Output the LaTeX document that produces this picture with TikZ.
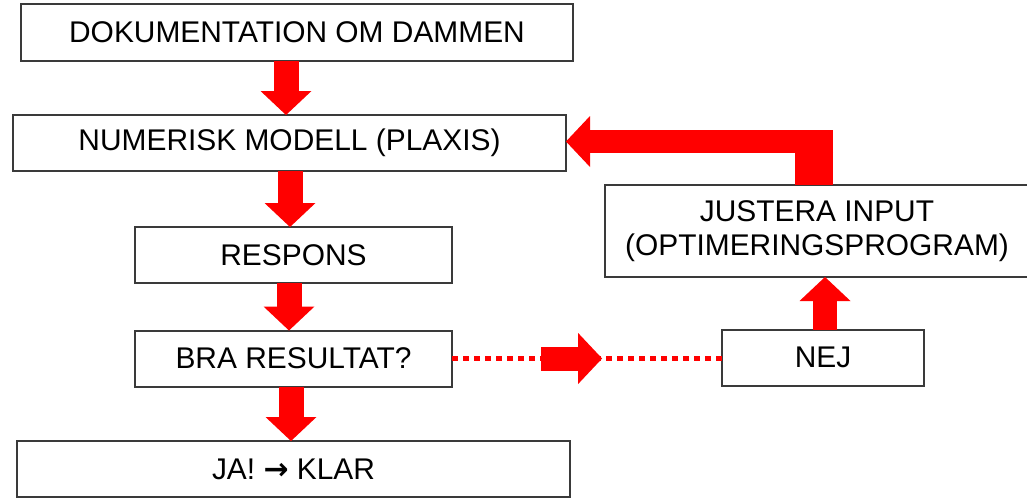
\documentclass[tikz,border=0pt]{standalone}
\usepackage{fontspec}
\setmainfont{Liberation Sans}
\newfontfamily\arrowfont{DejaVu Sans}
\usetikzlibrary{arrows.meta}
\definecolor{boxline}{HTML}{3A3A3A}
\definecolor{arrowred}{HTML}{FF0000}
\begin{document}
\begin{tikzpicture}[x=1pt,y=-1pt,
  box/.style={draw=boxline, line width=2pt, rectangle, inner sep=0pt, outer sep=0pt,
    align=center, font=\fontsize{29.9}{34}\selectfont},
  bigarrow/.style={draw=arrowred, line width=25pt,
    -{Triangle[width=51pt,length=24pt,line width=0pt,fill=arrowred]}},
  dotline/.style={draw=arrowred, line width=5.5pt, dash pattern=on 6pt off 5pt},
  thickbar/.style={draw=arrowred, line width=38pt}
]
\useasboundingbox (0,0) rectangle (1027,498);

\node[box, minimum width=552pt, minimum height=57pt] (b1) at (297,32.5) {DOKUMENTATION OM DAMMEN};
\node[box, minimum width=553pt, minimum height=56pt] (b2) at (289.5,143) {NUMERISK MODELL (PLAXIS)};
\node[box, minimum width=317pt, minimum height=56pt] (b3) at (293.5,255) {RESPONS};
\node[box, minimum width=317pt, minimum height=56pt] (b4) at (293.5,358.5) {BRA RESULTAT?};
\node[box, minimum width=553pt, minimum height=56pt] (b5) at (293.5,469) {JA! {\arrowfont\bfseries →} KLAR};
\node[box, minimum width=424pt, minimum height=92pt] (jus) at (817,231) {JUSTERA INPUT\\(OPTIMERINGSPROGRAM)};
\node[box, minimum width=202pt, minimum height=56pt] (nej) at (823,357.5) {NEJ};

% vertical flow arrows
\draw[bigarrow] ([xshift=-11pt]b1.south) -- ([xshift=-3.5pt]b2.north);
\draw[bigarrow] ([xshift=0.5pt]b2.south) -- ([xshift=-3.5pt]b3.north);
\draw[bigarrow] ([xshift=-4.5pt]b3.south) -- ([xshift=-4.5pt]b4.north);
\draw[bigarrow] ([xshift=-2.5pt]b4.south) -- ([xshift=-2.5pt]b5.north);

% NEJ branch
\draw[dotline] (b4.east) -- (b4.east -| nej.west);
\path (b4.east) -- (b4.east -| nej.west) coordinate[pos=0.33] (ms) coordinate[pos=0.556] (me);
\draw[bigarrow, line width=24pt] (ms) -- (me);
\draw[bigarrow, line width=24pt] ([xshift=2pt]nej.north) -- ([xshift=8pt]jus.south);

% feedback loop
\coordinate (fbtop) at (814,130);
\coordinate (fbh) at (833,141.5);
\draw[thickbar] ([xshift=-3pt]jus.north) -- (fbtop);
\draw[bigarrow, line width=23pt] (fbh) -- (b2.east |- fbh);
\end{tikzpicture}
\end{document}
